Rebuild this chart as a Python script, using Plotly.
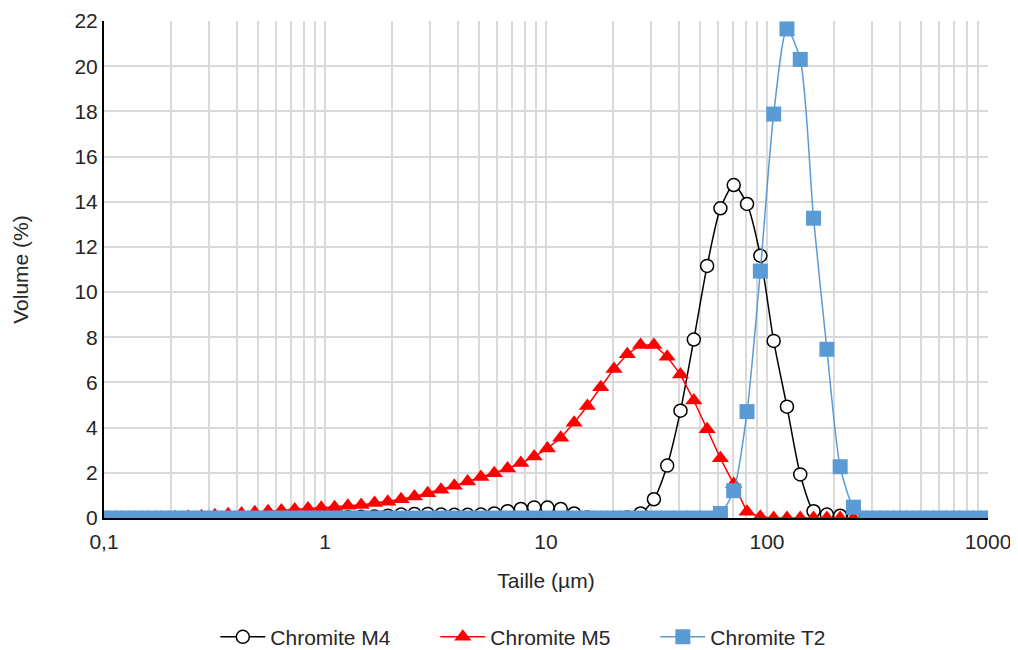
import plotly.graph_objects as go

# Particle size classes (µm)
sizes = [0.1047, 0.1203, 0.1381, 0.1587, 0.1823, 0.2094, 0.2405, 0.2763, 0.3174, 0.3646,
         0.4188, 0.4811, 0.5526, 0.6348, 0.7292, 0.8375, 0.9620, 1.105, 1.269, 1.458,
         1.675, 1.924, 2.210, 2.539, 2.916, 3.350, 3.848, 4.420, 5.077, 5.832,
         6.699, 7.695, 8.839, 10.15, 11.66, 13.40, 15.39, 17.68, 20.31, 23.33,
         26.79, 30.78, 35.35, 40.61, 46.65, 53.58, 61.55, 70.71, 81.22, 93.29,
         107.2, 123.1, 141.4, 162.4, 186.6, 214.3, 246.1, 282.7, 324.8, 373.1,
         428.5, 492.3, 565.5, 649.5, 746.1, 857.0, 984.4]

m4 = [0, 0, 0, 0, 0, 0, 0, 0, 0, 0,
      0, 0, 0, 0, 0, 0, 0, 0.02, 0.03, 0.05,
      0.07, 0.10, 0.15, 0.18, 0.18, 0.15, 0.14, 0.14, 0.15, 0.20,
      0.30, 0.40, 0.47, 0.46, 0.40, 0.20, 0.02, 0, 0, 0.02,
      0.20, 0.83, 2.32, 4.75, 7.90, 11.16, 13.71, 14.74, 13.90, 11.61,
      7.84, 4.93, 1.93, 0.30, 0.15, 0.10, 0, 0, 0, 0,
      0, 0, 0, 0, 0, 0, 0]

m5 = [0, 0, 0, 0, 0.01, 0.03, 0.05, 0.08, 0.12, 0.17,
      0.20, 0.25, 0.30, 0.33, 0.38, 0.42, 0.45, 0.48, 0.54, 0.58,
      0.66, 0.72, 0.83, 0.95, 1.10, 1.25, 1.43, 1.62, 1.81, 1.98,
      2.19, 2.43, 2.72, 3.08, 3.55, 4.22, 4.96, 5.79, 6.60, 7.25,
      7.66, 7.66, 7.14, 6.35, 5.20, 3.93, 2.64, 1.50, 0.28, 0.05,
      0, 0, 0, 0, 0, 0, 0, 0, 0, 0,
      0, 0, 0, 0, 0, 0, 0]

t2 = [0, 0, 0, 0, 0, 0, 0, 0, 0, 0,
      0, 0, 0, 0, 0, 0, 0, 0, 0, 0,
      0, 0, 0, 0, 0, 0, 0, 0, 0, 0,
      0, 0, 0, 0, 0, 0, 0, 0, 0, 0,
      0, 0, 0, 0, 0, 0, 0.20, 1.21, 4.71, 10.93,
      17.88, 21.65, 20.30, 13.27, 7.47, 2.27, 0.48, 0, 0, 0,
      0, 0, 0, 0, 0, 0, 0]

x_major = [0.1, 1, 10, 100, 1000]
x_major_labels = ["0,1", "1", "10", "100", "1000"]
y_ticks = list(range(0, 23, 2))

# gridline positions on the log axis (1..9 per decade)
grid_vals = []
grid_text = []
for d in [0.1, 1, 10, 100]:
    for m in range(1, 10):
        grid_vals.append(d * m)
        grid_text.append(x_major_labels[x_major.index(d)] if m == 1 else "")
grid_vals.append(1000)
grid_text.append("1000")

FONT = "Liberation Sans, Arial, sans-serif"
TXT = "#262626"
FS = 21

fig = go.Figure()
fig.add_trace(go.Scatter(
    x=sizes, y=m4, name="Chromite M4", mode="lines+markers",
    line=dict(color="black", width=1.5, shape="spline", smoothing=0.7),
    marker=dict(symbol="circle", size=13, color="white",
                line=dict(color="black", width=1.5))))
fig.add_trace(go.Scatter(
    x=sizes, y=m5, name="Chromite M5", mode="lines+markers",
    line=dict(color="#ff0000", width=1.5),
    marker=dict(symbol="triangle-up", size=15, color="#ff0000")))
fig.add_trace(go.Scatter(
    x=sizes, y=t2, name="Chromite T2", mode="lines+markers",
    line=dict(color="#5b9bd5", width=1.5, shape="spline", smoothing=0.7),
    marker=dict(symbol="square", size=15, color="#5b9bd5")))

fig.update_layout(
    width=1010, height=642,
    margin=dict(l=96, r=30, t=13, b=132, autoexpand=False),
    paper_bgcolor="white", plot_bgcolor="white",
    font=dict(family=FONT, size=FS, color=TXT),
    showlegend=True,
    legend=dict(orientation="h", xref="container", yref="container",
                x=0.532, xanchor="center", y=0.02, yanchor="middle",
                font=dict(size=FS, color=TXT), entrywidth=160, itemwidth=45),
)
fig.update_xaxes(
    type="log", range=[-1, 3], automargin=False,
    tickmode="array", tickvals=grid_vals, ticktext=grid_text,
    showgrid=True, gridcolor="#d9d9d9", gridwidth=1.5,
    showline=True, linecolor="black", linewidth=1.5,
    ticks="", zeroline=False, ticklabelstandoff=4,
    title=dict(text="Taille (µm)", font=dict(size=FS, color=TXT), standoff=21),
    tickfont=dict(size=FS, color=TXT),
)
fig.update_yaxes(
    range=[0, 22], tickmode="array", tickvals=y_ticks, automargin=False,
    showgrid=True, gridcolor="#d9d9d9", gridwidth=1.5,
    showline=True, linecolor="black", linewidth=2,
    ticks="", zeroline=False,
    title=dict(text="Volume (%)", font=dict(size=FS, color=TXT), standoff=40),
    tickfont=dict(size=FS, color=TXT),
)

fig.write_html("out.html")
